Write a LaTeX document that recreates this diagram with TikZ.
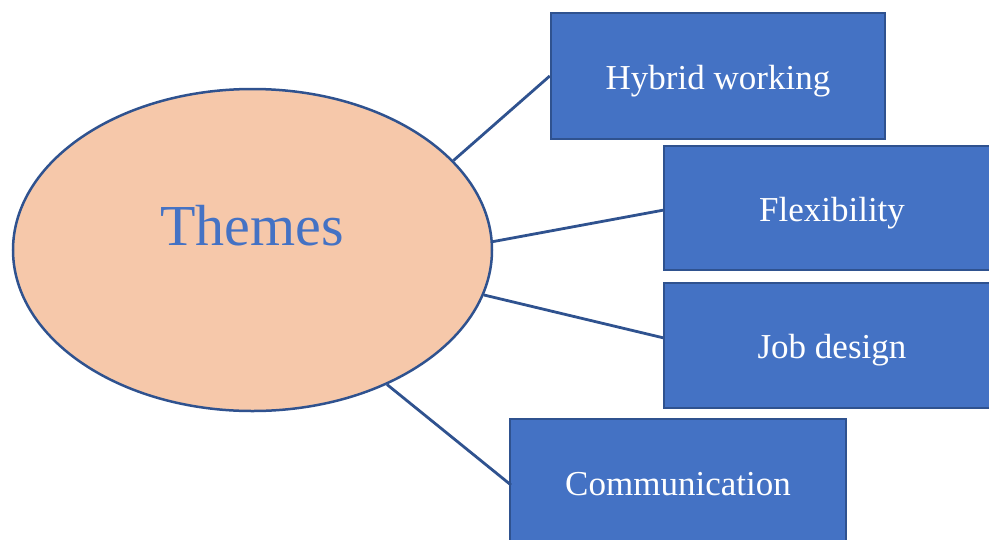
\documentclass[tikz,border=0pt]{standalone}
\usepackage{fontspec}
\setmainfont{Liberation Serif}
\usetikzlibrary{shapes.geometric}
\definecolor{boxfill}{HTML}{4472C4}
\definecolor{edgeblue}{HTML}{2F528F}
\definecolor{peach}{HTML}{F6C8AA}
\begin{document}
\begin{tikzpicture}[x=1pt,y=-1pt,
  themebox/.style={draw=edgeblue,line width=2.5pt,fill=boxfill,text=white,
    minimum width=336pt,minimum height=125pt,inner sep=0pt,
    text height=26pt,text depth=0pt,
    font=\fontsize{35}{40}\selectfont},
  link/.style={draw=edgeblue,line width=2.8pt}]
\useasboundingbox (0,0) rectangle (989,539);
\node[ellipse,draw=edgeblue,line width=2.5pt,fill=peach,minimum width=479pt,
  minimum height=322pt,inner sep=0pt] (e) at (252.5,250) {};
\node[anchor=base,text=boxfill,font=\fontsize{58}{64}\selectfont] (th) at (252,245) {Themes};
\node[themebox,minimum width=334pt,minimum height=126pt] (hw) at (718,76) {Hybrid working};
\node[themebox,minimum height=124pt] (fx) at (832,208) {Flexibility};
\node[themebox] (jd) at (832,345.5) {Job design};
\node[themebox,minimum height=126pt] (cm) at (678,482) {Communication};
\coordinate (fxin) at (664,210);
\coordinate (jdin) at (664,338);
\coordinate (cmin) at (511,485);
\draw[link] (e.24.2) -- (hw.west);
\draw[link] (e.2.9) -- (fxin);
\draw[link] (e.-11.6) -- (jdin);
\draw[link] (e.-45.8) -- (cmin);
\end{tikzpicture}
\end{document}
